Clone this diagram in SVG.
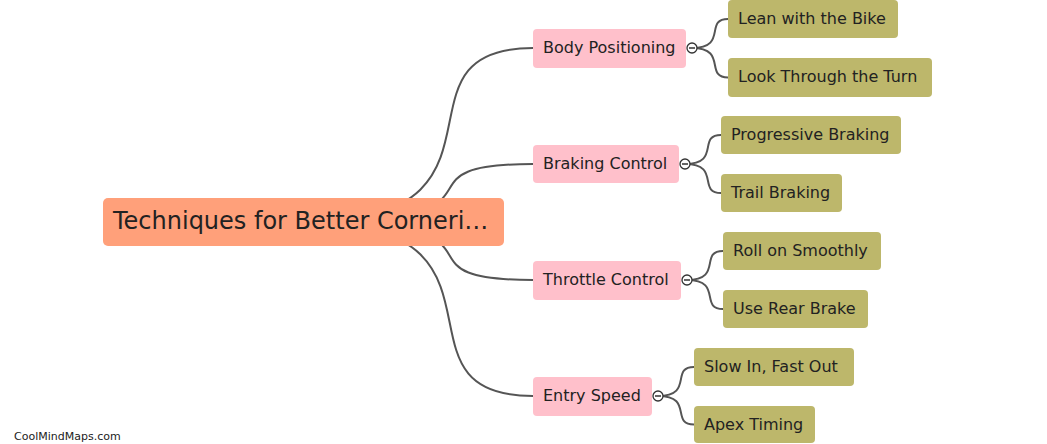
<svg xmlns="http://www.w3.org/2000/svg" width="1047" height="444" viewBox="0 0 1047 444">
<style>
.c{fill:none;stroke:#555;stroke-width:2}
.t{font-family:"DejaVu Sans",Verdana,sans-serif;fill:#222}
.l1{fill:#FFC0CB}
.l2{fill:#BDB76B}
.tg{fill:#fff;stroke:#333;stroke-width:1.3}
.tm{stroke:#333;stroke-width:1.5}
</style>
<rect width="1047" height="444" fill="#fff"/>
<g id="connectors">
<path class="c" d="M303 222 C533 222,380 48,533 48"/>
<path class="c" d="M303 222 C533 222,380 164,533 164"/>
<path class="c" d="M303 222 C533 222,380 280,533 280"/>
<path class="c" d="M303 222 C533 222,380 396,533 396"/>
<path class="c" d="M692 48 C728 48,704 19,728 19"/>
<path class="c" d="M692 48 C728 48,704 77.5,728 77.5"/>
<path class="c" d="M685 164 C721 164,697 135,721 135"/>
<path class="c" d="M685 164 C721 164,697 193,721 193"/>
<path class="c" d="M687 280 C723 280,699 251,723 251"/>
<path class="c" d="M687 280 C723 280,699 309,723 309"/>
<path class="c" d="M658 396 C694 396,670 367,694 367"/>
<path class="c" d="M658 396 C694 396,670 424.5,694 424.5"/>
</g>
<g id="root">
<rect x="103" y="198" width="401" height="48" rx="5" fill="#FFA07A"/>
<text class="t" x="113" y="229" font-size="24">Techniques for Better Corneri…</text>
</g>
<g id="body-positioning">
<rect class="l1" x="533" y="29" width="153" height="39" rx="4"/>
<text class="t" x="543" y="53" font-size="16">Body Positioning</text>
<circle class="tg" cx="692" cy="48" r="5"/><line class="tm" x1="689" y1="48" x2="695" y2="48"/>
</g>
<g id="braking-control">
<rect class="l1" x="533" y="145" width="146" height="38" rx="4"/>
<text class="t" x="543" y="169" font-size="16">Braking Control</text>
<circle class="tg" cx="685" cy="164" r="5"/><line class="tm" x1="682" y1="164" x2="688" y2="164"/>
</g>
<g id="throttle-control">
<rect class="l1" x="533" y="261" width="148" height="39" rx="4"/>
<text class="t" x="543" y="285" font-size="16">Throttle Control</text>
<circle class="tg" cx="687" cy="280" r="5"/><line class="tm" x1="684" y1="280" x2="690" y2="280"/>
</g>
<g id="entry-speed">
<rect class="l1" x="533" y="377" width="119" height="39" rx="4"/>
<text class="t" x="543" y="401" font-size="16">Entry Speed</text>
<circle class="tg" cx="658" cy="396" r="5"/><line class="tm" x1="655" y1="396" x2="661" y2="396"/>
</g>
<g id="lean-with-the-bike">
<rect class="l2" x="728" y="0" width="170" height="38" rx="4"/>
<text class="t" x="738" y="24" font-size="16">Lean with the Bike</text>
</g>
<g id="look-through-the-turn">
<rect class="l2" x="728" y="58" width="204" height="39" rx="4"/>
<text class="t" x="738" y="82" font-size="16">Look Through the Turn</text>
</g>
<g id="progressive-braking">
<rect class="l2" x="721" y="116" width="180" height="38" rx="4"/>
<text class="t" x="731" y="140" font-size="16">Progressive Braking</text>
</g>
<g id="trail-braking">
<rect class="l2" x="721" y="174" width="121" height="38" rx="4"/>
<text class="t" x="731" y="198" font-size="16">Trail Braking</text>
</g>
<g id="roll-on-smoothly">
<rect class="l2" x="723" y="232" width="158" height="38" rx="4"/>
<text class="t" x="733" y="256" font-size="16">Roll on Smoothly</text>
</g>
<g id="use-rear-brake">
<rect class="l2" x="723" y="290" width="145" height="38" rx="4"/>
<text class="t" x="733" y="314" font-size="16">Use Rear Brake</text>
</g>
<g id="slow-in-fast-out">
<rect class="l2" x="694" y="348" width="160" height="38" rx="4"/>
<text class="t" x="704" y="372" font-size="16">Slow In, Fast Out</text>
</g>
<g id="apex-timing">
<rect class="l2" x="694" y="406" width="121" height="37" rx="4"/>
<text class="t" x="704" y="430" font-size="16">Apex Timing</text>
</g>
<text class="t" x="14" y="440" font-size="11" fill="#333">CoolMindMaps.com</text>
</svg>
